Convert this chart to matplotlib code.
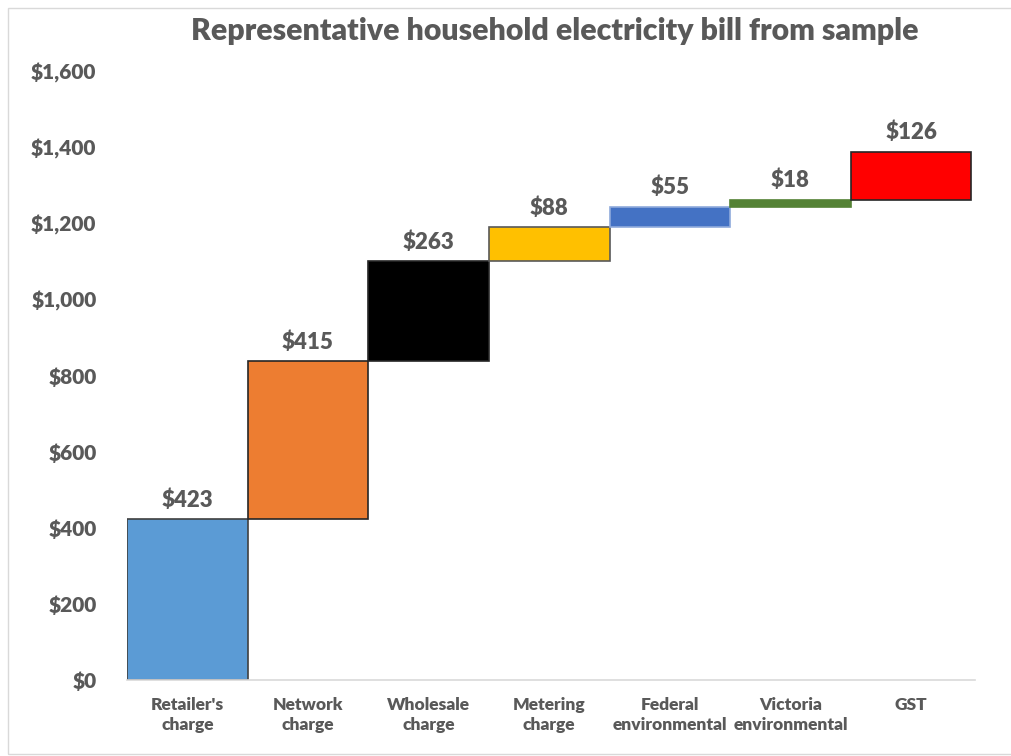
import numpy as np
import matplotlib
matplotlib.use("Agg")
import matplotlib.pyplot as plt
from matplotlib.patches import Rectangle
from matplotlib.ticker import FuncFormatter

categories = ["Retailer's\ncharge", "Network\ncharge", "Wholesale\ncharge",
              "Metering\ncharge", "Federal\nenvironmental", "Victoria\nenvironmental",
              "GST"]
amounts = [423, 415, 263, 88, 55, 18, 126]
bar_colors = ["#5B9BD5", "#ED7D31", "#000000", "#FFC000", "#4472C4", "#548235", "#FF0000"]
edge_colors = ["#404040", "#262626", "#262626", "#595959", "#8FAADC", "#548235", "#262626"]
yticks = [0, 200, 400, 600, 800, 1000, 1200, 1400, 1600]

TEXT = "#595959"
plt.rcParams["font.family"] = ["Lato", "DejaVu Sans"]

fig = plt.figure(figsize=(10.12, 7.56), dpi=100)
ax = fig.add_axes([127 / 1012, 1 - 680 / 756, 848 / 1012, 609 / 756])

# waterfall: each step starts where the previous one ended
bottoms = np.concatenate([[0], np.cumsum(amounts)[:-1]])
x = np.arange(len(amounts))
ax.bar(x, amounts, bottom=bottoms, width=1.0, color=bar_colors,
       edgecolor=edge_colors, linewidth=1.2)

for xi, b, v in zip(x, bottoms, amounts):
    ax.annotate(f"${v:,}", (xi, b + v), xytext=(0, 6), textcoords="offset points",
                ha="center", va="bottom", fontsize=16, fontweight="heavy", color=TEXT)

ax.set_xlim(-0.5, len(amounts) - 0.47)
ax.set_ylim(0, 1600)
ax.set_yticks(yticks)
ax.yaxis.set_major_formatter(FuncFormatter(lambda v, _: f"${v:,.0f}"))
ax.set_xticks(x)
ax.set_xticklabels(categories, linespacing=1.35)
ax.tick_params(axis="y", length=0, pad=22, labelsize=15, labelcolor=TEXT)
ax.tick_params(axis="x", length=0, pad=12, labelsize=12.5, labelcolor=TEXT)
for lab in ax.get_xticklabels() + ax.get_yticklabels():
    lab.set_fontweight("heavy")
for side in ("left", "right", "top"):
    ax.spines[side].set_visible(False)
ax.spines["bottom"].set_color("#D9D9D9")
ax.spines["bottom"].set_linewidth(1.2)

fig.text(555 / 1012, 1 - 31 / 756, "Representative household electricity bill from sample",
         ha="center", va="center", fontsize=21.8, fontweight="heavy", color=TEXT)

# thin chart-area frame
fig.patches.append(Rectangle((8 / 1012, 0.002), 1.2, 1 - 10 / 756, transform=fig.transFigure,
                             fill=False, edgecolor="#D9D9D9", linewidth=1))

fig.savefig("out.png", dpi=100)
